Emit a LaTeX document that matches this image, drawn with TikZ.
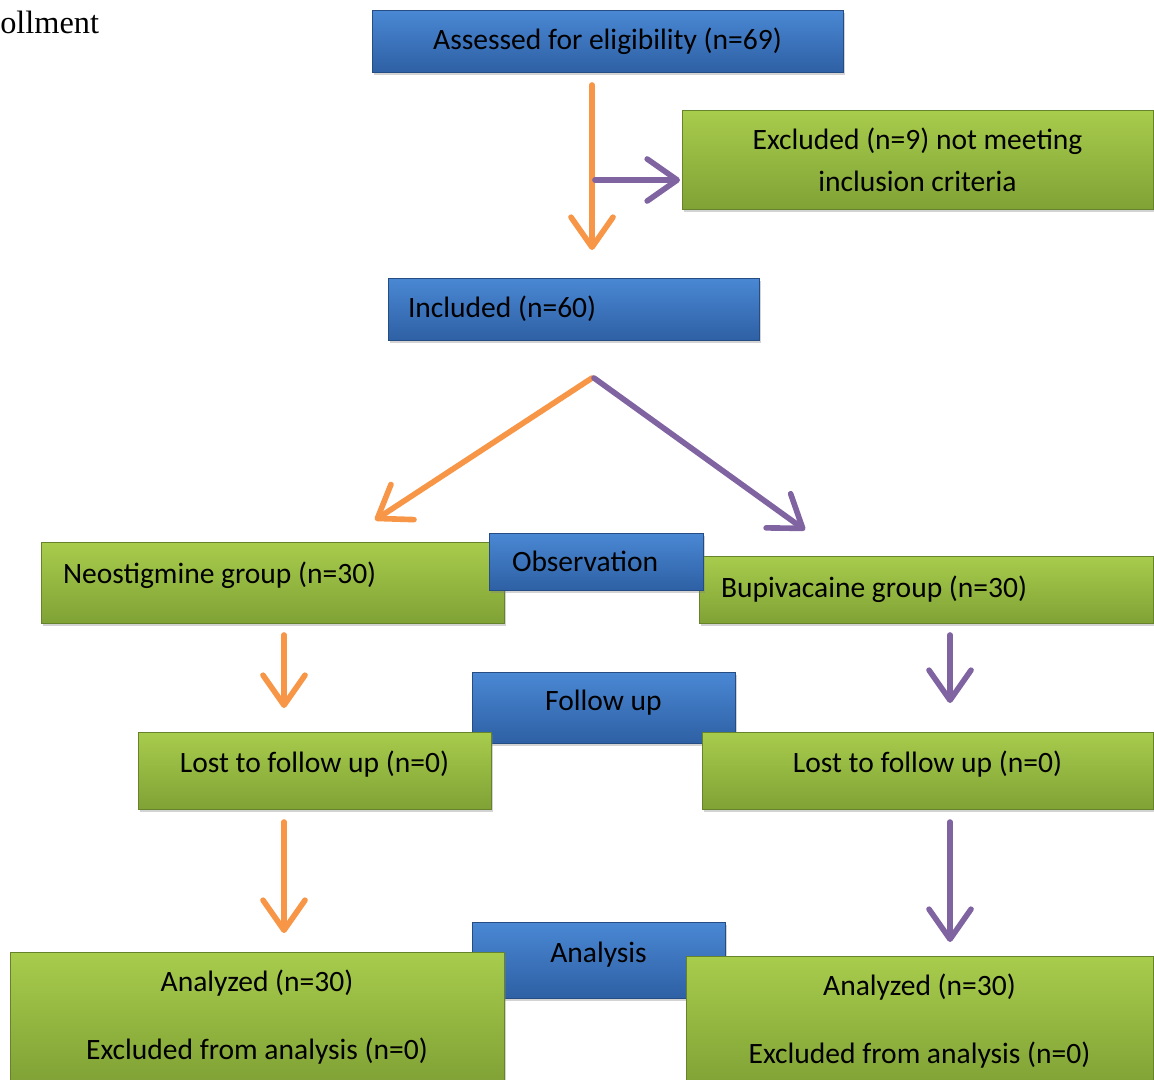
\documentclass[tikz,border=0pt]{standalone}
\usepackage{fontspec}
\setmainfont{Carlito}
\newfontfamily\timesfont{Liberation Serif}
\usetikzlibrary{arrows.meta,shadows}

\definecolor{arrorange}{RGB}{247,150,70}
\definecolor{arrpurple}{RGB}{128,100,162}
\definecolor{bluetop}{RGB}{74,136,212}
\definecolor{bluebot}{RGB}{46,96,164}
\definecolor{greentop}{RGB}{168,204,76}
\definecolor{greenbot}{RGB}{128,162,54}

\begin{document}
\begin{tikzpicture}
[
x=0.025cm, y=-0.025cm,
boxsize/.style 2 args={minimum width=#1*0.025cm,minimum height=#2*0.025cm},
flowbox/.style={inner sep=0pt,font=\fontsize{21}{25}\selectfont,
            drop shadow={opacity=0.35,shadow xshift=1.5pt,shadow yshift=-2pt}},
bluebox/.style 2 args={flowbox,boxsize={#1}{#2},draw=bluebot!80!black,line width=0.6pt,
            top color=bluetop,bottom color=bluebot},
greenbox/.style 2 args={flowbox,boxsize={#1}{#2},draw=greenbot!80!black,line width=0.6pt,
            top color=greentop,bottom color=greenbot},
leftsep/.style 2 args={text width=(#1-2*#2)*0.025cm,align=flush left},
flowarrow/.style={line width=4pt,line cap=round,
            -{Straight Barb[length=0.75cm,width=1.05cm,round]}},
]

\useasboundingbox (0,0) rectangle (1154,1079);

\node[font=\timesfont\fontsize{23}{27}\selectfont,anchor=west,inner sep=0pt] (enrol) at (0,22) {ollment};

% boxes
\node[bluebox={471}{62}] (assess) at (607.5,41) {Assessed for eligibility (n=69)};
\node[greenbox={471}{99},align=center] (excl) at (917.5,159.5)
            {Excluded (n=9) not meeting\\[5pt]inclusion criteria};
\node[bluebox={371}{62},leftsep={371}{20}] (incl) at (573.5,309) {Included (n=60)};

\node[greenbox={463}{81},leftsep={463}{22},text depth=0.5cm] (neo) at (272.5,582.5)
            {Neostigmine group (n=30)};
\node[greenbox={454}{67},leftsep={454}{22}] (bupi) at (926,589.5) {Bupivacaine group (n=30)};
\node[bluebox={214}{57},leftsep={214}{23}] (obs) at (596,561.5) {Observation};

\node[bluebox={263}{71},text depth=0.35cm] (fup) at (603.5,707.5) {Follow up};
\node[greenbox={353}{77},text depth=0.45cm] (lostL) at (314.5,770.5) {Lost to follow up (n=0)};
\node[greenbox={451}{77},text depth=0.45cm] (lostR) at (927.5,770.5) {Lost to follow up (n=0)};

\node[bluebox={253}{76},text depth=0.4cm] (ana) at (598.5,960) {Analysis};
\node[greenbox={494}{130},align=center] (anaL) at (257,1017)
            {Analyzed (n=30)\\[23pt]Excluded from analysis (n=0)};
\node[greenbox={467}{130},align=center] (anaR) at (919.5,1021)
            {Analyzed (n=30)\\[23pt]Excluded from analysis (n=0)};

% arrow ends
\coordinate (down1s) at (592,85);   \coordinate (down1e) at (592,250);
\coordinate (side1s) at (595,180);  \coordinate (side1e) at (680,180);
\coordinate (splitL) at (592,378);  \coordinate (neoTip) at (375,520);
\coordinate (splitR) at (594,378);  \coordinate (bupiTip) at (805,530);
\coordinate (neoS) at (284,635);    \coordinate (neoE) at (284,708);
\coordinate (bupiS) at (950,635);   \coordinate (bupiE) at (950,703);
\coordinate (lostLS) at (284,822);  \coordinate (lostLE) at (284,933);
\coordinate (lostRS) at (950,822);  \coordinate (lostRE) at (950,942);

\draw[flowarrow,arrorange] (down1s) -- (down1e);
\draw[flowarrow,arrpurple] (side1s) -- (side1e);
\draw[flowarrow,arrorange] (splitL) -- (neoTip);
\draw[flowarrow,arrpurple] (splitR) -- (bupiTip);
\draw[flowarrow,arrorange] (neoS) -- (neoE);
\draw[flowarrow,arrpurple] (bupiS) -- (bupiE);
\draw[flowarrow,arrorange] (lostLS) -- (lostLE);
\draw[flowarrow,arrpurple] (lostRS) -- (lostRE);

\end{tikzpicture}
\end{document}
